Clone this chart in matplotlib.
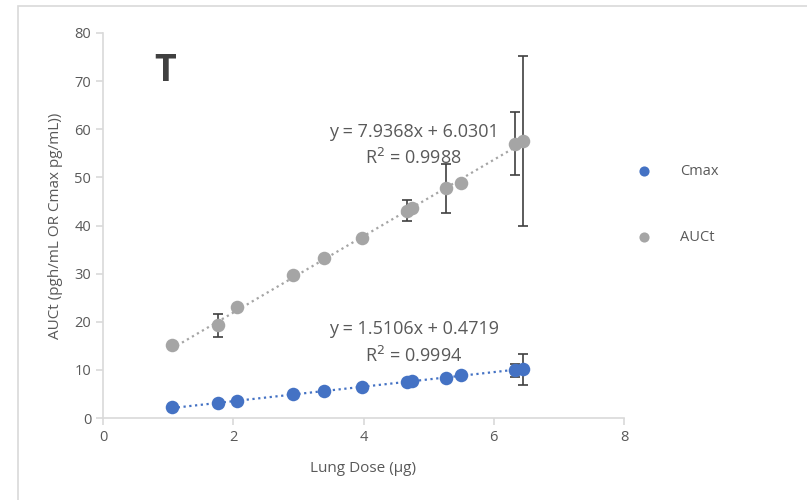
import matplotlib.pyplot as plt
import numpy as np
from matplotlib.patches import Rectangle

# lung dose (ug)
dose = [1.06, 1.76, 2.05, 2.91, 3.39, 3.97, 4.67, 4.74, 5.26, 5.50, 6.33, 6.45]

cmax = [2.2, 3.1, 3.6, 4.9, 5.6, 6.4, 7.5, 7.6, 8.3, 8.9, 9.9, 10.1]
cmax_err = [0, 0, 0, 0, 0, 0, 0, 0, 0, 0, 1.3, 3.3]

auct = [15.1, 19.3, 23.0, 29.8, 33.2, 37.5, 43.1, 43.6, 47.7, 48.9, 57.0, 57.6]
auct_err = [0, 2.4, 0, 0, 0, 0, 2.2, 0, 5.1, 0, 6.5, 17.7]

fit_cmax = (1.5106, 0.4719, 0.9994)
fit_auct = (7.9368, 6.0301, 0.9988)

blue = '#4472c4'
grey = '#a5a5a5'
txt = '#595959'
plt.rcParams['font.family'] = ['Open Sans', 'DejaVu Sans']

fig = plt.figure(figsize=(8.07, 5), dpi=100)
fig.patches.append(Rectangle((18/807, -0.1), 1.0, 1.088, transform=fig.transFigure,
                             fill=False, edgecolor='#d9d9d9', lw=1.2))
ax = fig.add_axes([103/807, 82/500, 521/807, 385/500])

xx = np.array([min(dose), max(dose)])
for a, b, r2, col in [fit_auct + (grey,), fit_cmax + (blue,)]:
    ax.plot(xx, a*xx + b, ls=(0, (1, 1.6)), color=col, lw=1.6, zorder=2)

ax.errorbar(dose, auct, yerr=auct_err, fmt='none', ecolor='#404040', elinewidth=1.2,
            capsize=3.5, capthick=1.2, zorder=3)
ax.errorbar(dose, cmax, yerr=cmax_err, fmt='none', ecolor='#404040', elinewidth=1.2,
            capsize=3.5, capthick=1.2, zorder=3)
ax.scatter(dose, cmax, s=95, color=blue, zorder=4, label='Cmax', linewidths=0)
ax.scatter(dose, auct, s=95, color=grey, zorder=4, label='AUCt', linewidths=0)

eq_size = 13
ax.text(4.77, 59.4, 'y = 7.9368x + 6.0301', ha='center', va='center', fontsize=eq_size, color=txt)
ax.text(4.77, 54.1, 'R$^2$ = 0.9988', ha='center', va='center', fontsize=eq_size, color=txt)
ax.text(4.77, 18.4, 'y = 1.5106x + 0.4719', ha='center', va='center', fontsize=eq_size, color=txt)
ax.text(4.77, 12.9, 'R$^2$ = 0.9994', ha='center', va='center', fontsize=eq_size, color=txt)
ax.text(0.95, 72.2, 'T', ha='center', va='center', fontsize=27, fontweight='bold', color='#404040')

ax.set_xlim(0, 8)
ax.set_ylim(0, 80)
ax.set_xticks(range(0, 9, 2))
ax.set_yticks(range(0, 81, 10))
for s in ['top', 'right']:
    ax.spines[s].set_visible(False)
for s in ['left', 'bottom']:
    ax.spines[s].set_color('#d9d9d9')
    ax.spines[s].set_linewidth(1.2)
ax.tick_params(colors='#d9d9d9', labelcolor=txt, labelsize=10.5, length=5, width=1.2)
ax.set_xlabel('Lung Dose (µg)', fontsize=11, color=txt, labelpad=12)
ax.set_ylabel('AUCt (pgh/mL OR Cmax pg/mL))', fontsize=11, color=txt, labelpad=8)

leg = ax.legend(loc='center left', bbox_to_anchor=(0.985, 0.555), frameon=False,
                fontsize=10.5, labelspacing=3.5, handletextpad=1.5, markerscale=0.75)
for t in leg.get_texts():
    t.set_color(txt)

fig.savefig('out.png', dpi=100)
